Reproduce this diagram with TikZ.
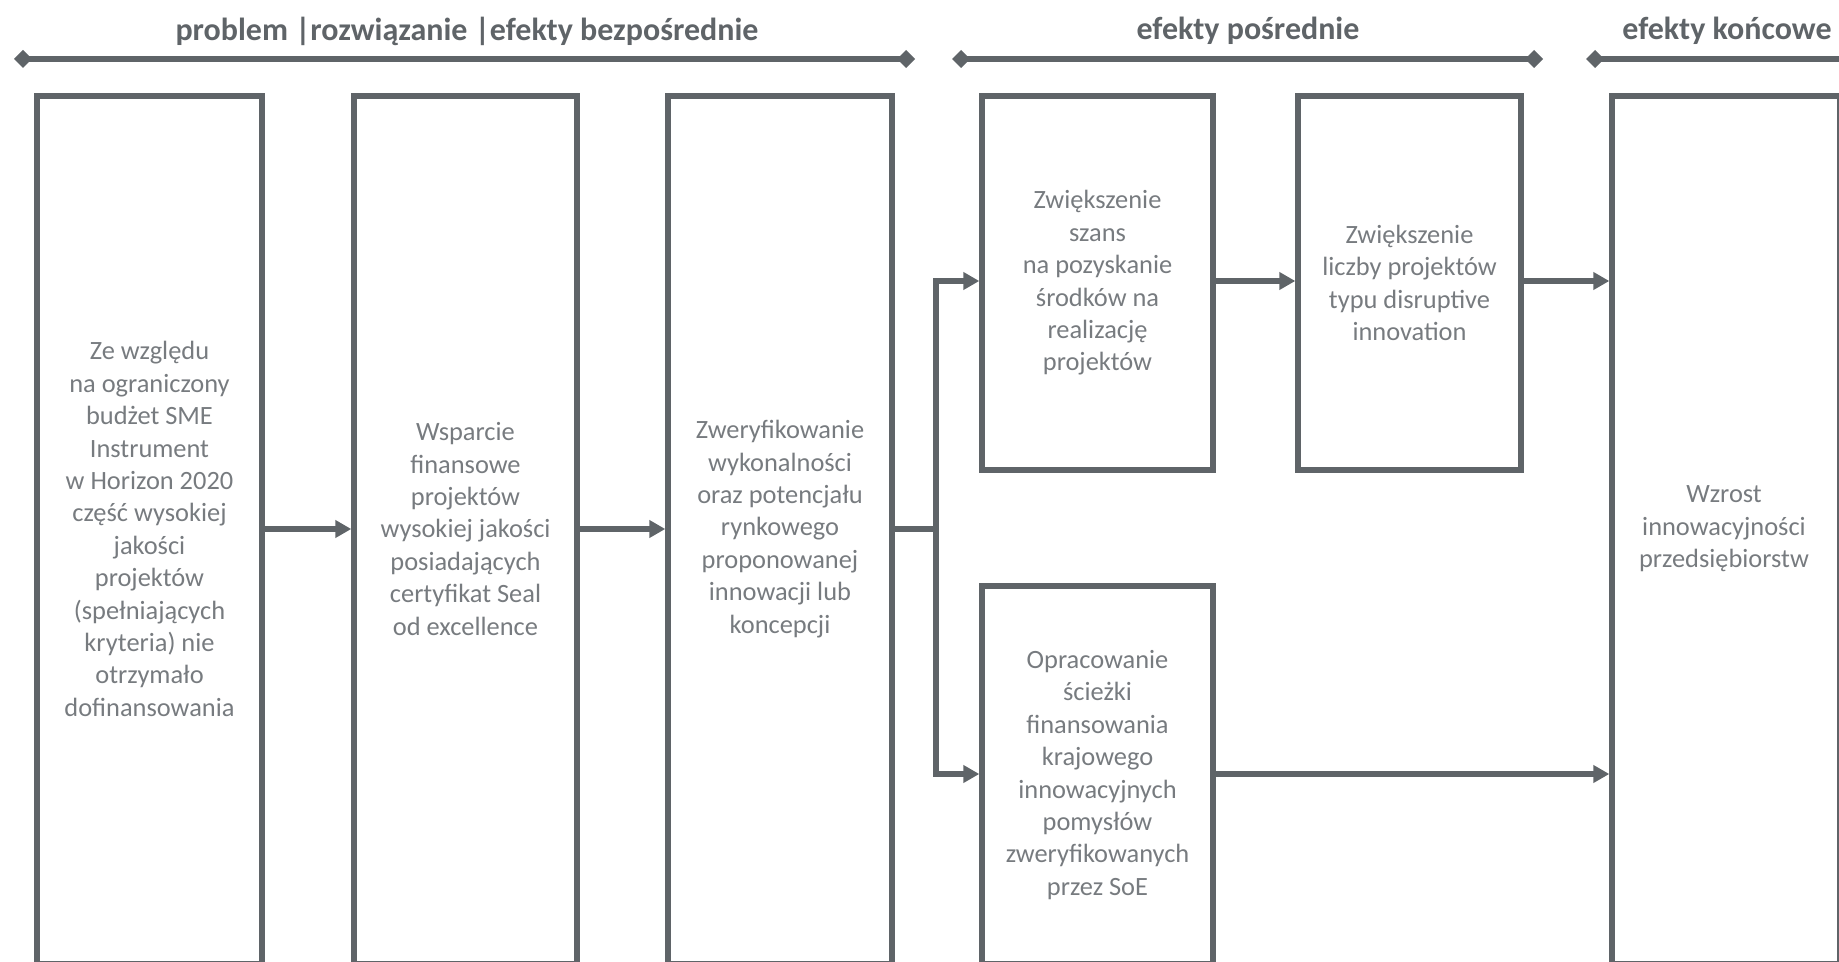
\documentclass[tikz,border=0pt]{standalone}
\usepackage{fontspec}
\setmainfont{Carlito}
\usetikzlibrary{arrows.meta}
\definecolor{frame}{HTML}{5F6468}
\definecolor{bodytext}{HTML}{777B7F}
\begin{document}
\begin{tikzpicture}[x=0.5pt,y=-0.5pt,
  box/.style={draw=frame,line width=2.7pt,inner sep=0pt},
  txt/.style={align=center,text=bodytext,inner sep=0pt,font=\fontsize{13.2}{16.2}\selectfont},
  head/.style={text=frame,inner sep=0pt,font=\fontsize{16}{19}\selectfont\bfseries},
  span/.style={draw=frame,line width=2.9pt,{Diamond[length=9pt,width=9pt]}-{Diamond[length=9pt,width=9pt]}},
  link/.style={draw=frame,line width=2.9pt},
  arr/.style={link,-{Triangle[length=8pt,width=8.5pt]}}]
\useasboundingbox (0,0) rectangle (1839,962);
\clip (0,0) rectangle (1839,962);

% section headings
\node[head] (h1) at (467,31) {problem |rozwiązanie |efekty bezpośrednie};
\node[head] (h2) at (1248,31) {efekty pośrednie};
\node[head] (h3) at (1727,31) {efekty końcowe};
\coordinate (s1a) at (14,59);   \coordinate (s1b) at (915,59);
\coordinate (s2a) at (952,59);  \coordinate (s2b) at (1543,59);
\coordinate (s3a) at (1586,59); \coordinate (s3b) at (1860,59);
\draw[span] (s1a) -- (s1b);
\draw[span] (s2a) -- (s2b);
\draw[span] (s3a) -- (s3b);

% boxes
\node[box,minimum width=112.5pt,minimum height=434pt] (b1) at (149.5,530) {};
\node[box,minimum width=111.5pt,minimum height=434pt] (b2) at (465.5,530) {};
\node[box,minimum width=112pt,minimum height=434pt] (b3) at (780,530) {};
\node[box,minimum width=115.5pt,minimum height=187pt] (b4) at (1097.5,283) {};
\node[box,minimum width=111.5pt,minimum height=187pt] (b5) at (1409.5,283) {};
\node[box,minimum width=115.5pt,minimum height=189pt] (b6) at (1097.5,775) {};
\node[box,minimum width=114pt,minimum height=434pt] (b7) at (1726,530) {};

% box texts
\node[txt] (t1) at (149.5,529) {Ze względu\\na ograniczony\\budżet SME\\Instrument\\w Horizon 2020\\część wysokiej\\jakości\\projektów\\(spełniających\\kryteria) nie\\otrzymało\\dofinansowania};
\node[txt] (t2) at (465.5,529) {Wsparcie\\finansowe\\projektów\\wysokiej jakości\\posiadających\\certyfikat Seal\\od excellence};
\node[txt] (t3) at (780,529) {Zweryfikowanie\\wykonalności\\oraz potencjału\\rynkowego\\proponowanej\\innowacji lub\\koncepcji};
\node[txt] (t4) at (1097.5,283) {Zwiększenie\\szans\\na pozyskanie\\środków na\\realizację\\projektów};
\node[txt] (t5) at (1409.5,283) {Zwiększenie\\liczby projektów\\typu disruptive\\innovation};
\node[txt] (t6) at (1097.5,775) {Opracowanie\\ścieżki\\finansowania\\krajowego\\innowacyjnych\\pomysłów\\zweryfikowanych\\przez SoE};
\node[txt] (t7) at (1724,529) {Wzrost\\innowacyjności\\przedsiębiorstw};

% connectors
\coordinate (r1) at (0,529);
\coordinate (r2) at (0,281);
\coordinate (r3) at (0,774);
\coordinate (fork) at (936,529);
\draw[arr] (b1.east |- r1) -- (b2.west |- r1);
\draw[arr] (b2.east |- r1) -- (b3.west |- r1);
\draw[link] (b3.east |- r1) -- (fork);
\draw[arr] (fork) |- (b4.west |- r2);
\draw[arr] (fork) |- (b6.west |- r3);
\draw[arr] (b4.east |- r2) -- (b5.west |- r2);
\draw[arr] (b5.east |- r2) -- (b7.west |- r2);
\draw[arr] (b6.east |- r3) -- (b7.west |- r3);
\end{tikzpicture}
\end{document}
